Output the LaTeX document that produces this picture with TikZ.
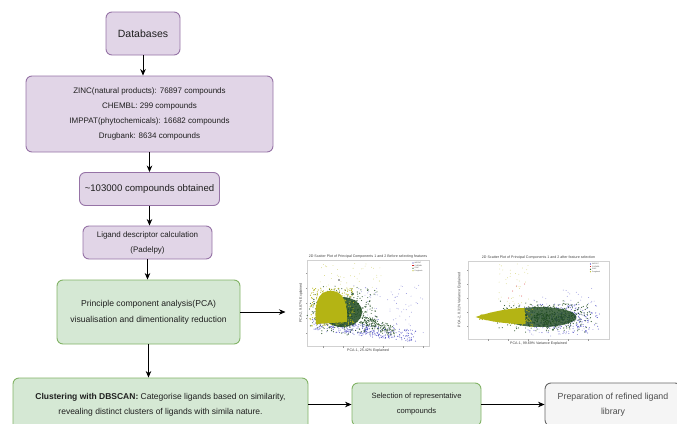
\documentclass[tikz,border=0pt]{standalone}
\usepackage{fontspec}
\setmainfont{Liberation Sans}
\usetikzlibrary{positioning}
\usetikzlibrary{arrows.meta}
\definecolor{purpfill}{HTML}{E1D5E7}
\definecolor{purpline}{HTML}{9673A6}
\definecolor{grnfill}{HTML}{D5E8D4}
\definecolor{grnline}{HTML}{82B366}
\definecolor{gryfill}{HTML}{F5F5F5}
\definecolor{gryline}{HTML}{666666}
\definecolor{grytext}{HTML}{4D4D4D}
\definecolor{boxtext}{HTML}{1F1F1F}
\definecolor{ptblue}{HTML}{2A2AB8}
\definecolor{ptgreen}{HTML}{1E4A1E}
\definecolor{ptyellow}{HTML}{B4B414}
\definecolor{ptred}{HTML}{D42020}

\begin{document}
\begin{tikzpicture}[x=1pt,y=-1pt,node distance=10pt,on grid,>={Stealth[length=6.5pt,width=5.5pt]},
		purpbox/.style={rectangle,rounded corners=6pt,draw=purpline,fill=purpfill,line width=0.9pt,align=center,text=boxtext,inner sep=0pt},
		grnbox/.style={purpbox,draw=grnline,fill=grnfill},
		grybox/.style={purpbox,draw=gryline,fill=gryfill,text=grytext},
		link/.style={->,line width=0.8pt,black},
		plotbox/.style={rectangle,draw=black!18,line width=0.3pt,inner sep=0pt},
		plottext/.style={font=\fontsize{3.6}{4}\selectfont,text=black!75,inner sep=0pt},
		legtext/.style={font=\fontsize{1.8}{2}\selectfont,text=black!70,inner sep=0pt,anchor=west}]
		\useasboundingbox (0,0) rectangle (677,423);
		\clip (0,0) rectangle (677,423);
		
		\node[purpbox,minimum width=74pt,minimum height=43pt,font=\fontsize{10.5}{12}\selectfont] (db) at (143,33.5) {Databases};
		\node[purpbox,minimum width=247pt,minimum height=76pt,font=\fontsize{8}{15.2}\selectfont] (src) [below=80.5pt of db,xshift=6.5pt]
			{ZINC(natural products): 76897 compounds\\CHEMBL: 299 compounds\\IMPPAT(phytochemicals): 16682 compounds\\Drugbank: 8634 compounds};
		\node[purpbox,minimum width=140pt,minimum height=33pt,font=\fontsize{9.6}{12}\selectfont] (total) [below=75pt of src] {{\textasciitilde}103000 compounds obtained};
		\node[purpbox,minimum width=129pt,minimum height=33pt,font=\fontsize{8}{15}\selectfont] (desc) [below=53.5pt of total,xshift=-2pt] {Ligand descriptor calculation\\(Padelpy)};
		\node[grnbox,minimum width=183pt,minimum height=64pt,font=\fontsize{8.6}{16}\selectfont] (pca) [below=69.5pt of desc,xshift=1pt] {Principle component analysis(PCA)\\visualisation and dimentionality reduction};
		\node[grnbox,minimum width=295pt,minimum height=53pt,font=\fontsize{8.5}{15}\selectfont] (clus) [below=92.5pt of pca,xshift=12pt]
			{\textbf{Clustering with DBSCAN:} Categorise ligands based on similarity,\\revealing distinct clusters of ligands with simila nature.};
		\node[grnbox,minimum width=129pt,minimum height=43pt,font=\fontsize{7.6}{15}\selectfont] (sel) [right=256pt of clus] {Selection of representative\\compounds};
		\node[grybox,minimum width=136pt,minimum height=43pt,font=\fontsize{8.8}{15}\selectfont] (prep) [right=196.5pt of sel] {Preparation of refined ligand\\library};
		
		\node[plotbox,minimum width=122pt,minimum height=86pt] (plota) [right=219.5pt of pca,yshift=9pt] {};
		\node[plotbox,minimum width=141pt,minimum height=78pt] (plotb) [right=170.5pt of plota,yshift=3pt] {};
		\coordinate[right=45pt of pca.east] (plotin);
		
		\path[link]
		(db.south) edge (db.south |- src.north)
		(src.south) edge (src.south |- total.north)
		(total.south) edge (total.south |- desc.north)
		(desc.south) edge (desc.south |- pca.north)
		(pca.south) edge (pca.south |- clus.north)
		(pca.east) edge (plotin)
		(clus.east) edge (sel.west)
		(sel.east) edge (prep.west);
		
		\pgfmathsetseed{11}
		% scatter plot before feature selection
		\begin{scope}[shift={(plota.center)}]
			\node[plottext] (tta) at (0,-46.5) {2D Scatter Plot of Principal Components 1 and 2 Before selecting features};
			\node[plottext] (xla) at (0,48) {PCA-1, 25.42\% Explained};
			\node[plottext,rotate=90] (yla) at (-67,0) {PCA-2, 9.87\% Explained};
			\foreach \k in {-30,-15,...,30} \draw[black!40,line width=0.2pt] (-61,\k) -- (-62.5,\k);
			\foreach \k in {-45,-25,...,55} \draw[black!40,line width=0.2pt] (\k,43) -- (\k,44.5);
			\foreach \i in {1,...,90}{
				\pgfmathsetmacro{\px}{-15+72*rnd}
				\pgfmathsetmacro{\py}{-18+50*rnd}
				\fill[ptblue,opacity=0.5] (\px,\py) circle[radius=0.45pt];
			}
			\foreach \i in {1,...,300}{
				\pgfmathsetmacro{\tv}{rnd}
				\pgfmathsetmacro{\px}{-54+100*\tv+3*rand}
				\pgfmathsetmacro{\py}{21+12*\tv+6*rand}
				\fill[ptblue,opacity=0.7] (\px,\py) circle[radius=0.55pt];
			}
			\fill[ptgreen,opacity=0.85] (-26,9) ellipse [x radius=20,y radius=15];
			\foreach \i in {1,...,420}{
				\pgfmathsetmacro{\px}{-24+38*(rand+rand)/2}
				\pgfmathsetmacro{\py}{8+26*(rand+rand)/2}
				\fill[ptgreen,opacity=0.85] (\px,\py) circle[radius=0.6pt];
			}
			\foreach \i in {1,...,160}{
				\pgfmathsetmacro{\tv}{rnd}
				\pgfmathsetmacro{\px}{-5+30*\tv+4*rand}
				\pgfmathsetmacro{\py}{17+11*\tv+5*rand}
				\fill[ptgreen,opacity=0.85] (\px,\py) circle[radius=0.55pt];
			}
			\fill[ptyellow] (-52,21) .. controls (-55,-8) and (-45,-13) .. (-35,-12) .. controls (-24,-11) and (-20,2) .. (-21,19) -- cycle;
			\foreach \i in {1,...,260}{
				\pgfmathsetmacro{\px}{-36+22*rand}
				\pgfmathsetmacro{\py}{4+19*rand}
				\fill[ptyellow,opacity=0.9] (\px,\py) circle[radius=0.6pt];
			}
			\foreach \i in {1,...,45}{
				\pgfmathsetmacro{\px}{-48+62*rnd}
				\pgfmathsetmacro{\py}{-40+28*rnd}
				\fill[ptyellow,opacity=0.6] (\px,\py) circle[radius=0.4pt];
			}
			\fill[black!70] (-29,-23) circle[radius=0.8pt];
			% legend
			\fill[ptblue] (45,-40) circle[radius=0.6pt]; \node[legtext] (la1) at (46.5,-40) {IMPPAT};
			\fill[ptred] (44.4,-38) rectangle (45.6,-36.8); \node[legtext] (la2) at (46.5,-37.4) {CHEMBL};
			\fill[ptgreen] (45,-34.8) circle[radius=0.6pt]; \node[legtext] (la3) at (46.5,-34.8) {ZINC};
			\fill[ptyellow] (45,-32.2) circle[radius=0.6pt]; \node[legtext] (la4) at (46.5,-32.2) {Drugbank};
		\end{scope}
		
		% scatter plot after feature selection
		\begin{scope}[shift={(plotb.center)}]
			\node[plottext] (ttb) at (0,-42.5) {2D Scatter Plot of Principal Components 1 and 2 after feature selection};
			\node[plottext] (xlb) at (0,44) {PCA-1, 99.69\% Variance Explained};
			\node[plottext,rotate=90] (ylb) at (-79,0) {PCA-2, 0.31\% Variance Explained};
			\foreach \k in {-30,-16,...,30} \draw[black!40,line width=0.2pt] (-70.5,\k) -- (-72,\k);
			\foreach \k in {-50,-30,...,60} \draw[black!40,line width=0.2pt] (\k,39) -- (\k,40.5);
			\foreach \i in {1,...,70}{
				\pgfmathsetmacro{\px}{-10+72*rnd}
				\pgfmathsetmacro{\py}{-12+48*rnd}
				\fill[ptblue,opacity=0.5] (\px,\py) circle[radius=0.45pt];
			}
			\foreach \i in {1,...,340}{
				\pgfmathsetmacro{\px}{20+42*(rand+rand)/2}
				\pgfmathsetmacro{\py}{18+17*(rand+rand)/2}
				\fill[ptblue,opacity=0.7] (\px,\py) circle[radius=0.55pt];
			}
			\fill[ptgreen,opacity=0.8] (2,17) ellipse [x radius=36,y radius=10];
			\foreach \i in {1,...,420}{
				\pgfmathsetmacro{\px}{6+54*(rand+rand)/2}
				\pgfmathsetmacro{\py}{17+17*(rand+rand)/2}
				\fill[ptgreen,opacity=0.85] (\px,\py) circle[radius=0.6pt];
			}
			\foreach \i in {1,...,40}{
				\pgfmathsetmacro{\px}{-40+30*rnd}
				\pgfmathsetmacro{\py}{-36+40*rnd}
				\fill[ptyellow,opacity=0.6] (\px,\py) circle[radius=0.4pt];
			}
			\fill[ptyellow] (-63,17) .. controls (-45,11) and (-27,8) .. (-14,8) -- (-13,24) .. controls (-30,24) and (-48,22) .. (-63,17);
			\foreach \i in {1,...,260}{
				\pgfmathsetmacro{\tv}{rnd}
				\pgfmathsetmacro{\px}{-60+54*\tv}
				\pgfmathsetmacro{\py}{17+(2+8*\tv)*rand}
				\fill[ptyellow,opacity=0.9] (\px,\py) circle[radius=0.6pt];
			}
			\foreach \p in {(-22,-14),(-26,-9),(-17,-4),(-30,-2),(-14,-16)} \fill[ptred,opacity=0.8] \p circle[radius=0.5pt];
			% legend
			\fill[ptblue] (52,-36) circle[radius=0.6pt]; \node[legtext] (lb1) at (53.5,-36) {IMPPAT};
			\fill[ptred] (51.4,-34) rectangle (52.6,-32.8); \node[legtext] (lb2) at (53.5,-33.4) {CHEMBL};
			\fill[ptgreen] (52,-30.8) circle[radius=0.6pt]; \node[legtext] (lb3) at (53.5,-30.8) {ZINC};
			\fill[ptyellow] (52,-28.2) circle[radius=0.6pt]; \node[legtext] (lb4) at (53.5,-28.2) {Drugbank};
		\end{scope}
\end{tikzpicture}
\end{document}
